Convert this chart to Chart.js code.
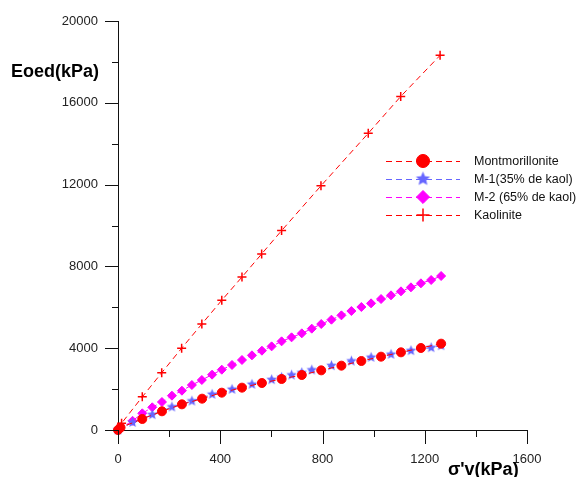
<!DOCTYPE html>
<html>
<head>
<meta charset="utf-8">
<script src="https://cdn.jsdelivr.net/npm/chart.js@4.4.1/dist/chart.umd.min.js"></script>
<style>
  html, body { margin: 0; padding: 0; background: #fff; }
  #wrap { width: 579px; height: 477px; position: relative; }
</style>
</head>
<body>
<div id="wrap"><canvas id="c" width="579" height="477"></canvas></div>
<script>
// values (sigma'v in kPa, Eoed in kPa)
const montX = [0, 10, 95, 172, 250, 329, 406, 485, 563, 640, 719, 795, 874, 952, 1029, 1107, 1185, 1264];
const montY = [0, 120, 538, 914, 1255, 1532, 1826, 2071, 2298, 2494, 2689, 2917, 3146, 3374, 3586, 3798, 4010, 4222];

const m1X = [0, 57, 134, 211, 289, 368, 446, 524, 601, 640, 679, 719, 758, 835, 913, 990, 1068, 1146, 1225, 1264];
const m1Y = [0, 370, 750, 1125, 1418, 1744, 1989, 2233, 2461, 2575, 2689, 2803, 2934, 3146, 3374, 3553, 3700, 3879, 4026, 4124];

const m2X = [0, 57, 95, 134, 172, 211, 250, 289, 328, 368, 406, 446, 485, 524, 563, 601, 640, 679, 719, 758, 795, 835, 874, 913, 952, 990, 1029, 1068, 1107, 1146, 1185, 1225, 1264];
const m2Y = [0, 450, 816, 1110, 1369, 1678, 1923, 2200, 2445, 2706, 2950, 3180, 3423, 3651, 3879, 4090, 4336, 4531, 4726, 4955, 5183, 5395, 5606, 5818, 6014, 6193, 6405, 6585, 6780, 6976, 7172, 7335, 7530];

const kaolX = [0, 14, 95, 171, 249, 328, 406, 485, 562, 640, 794, 979, 1106, 1260];
const kaolY = [0, 330, 1620, 2800, 4000, 5183, 6345, 7480, 8610, 9750, 11940, 14510, 16310, 18320];

const seriesNames = ['Montmorillonite', 'M-1(35% de kaol)', 'M-2 (65% de kaol)', 'Kaolinite'];
const xMajor = [0, 400, 800, 1200, 1600];
const xMinor = [200, 600, 1000, 1400];
const yMajor = [0, 4000, 8000, 12000, 16000, 20000];
const yMinor = [2000, 6000, 10000, 14000, 18000];

const FONT = '"Liberation Sans", Arial, sans-serif';

// filled five-point star as an image, Chart.js has only an asterisk 'star'
function starImage(r, color) {
  const size = Math.ceil(r * 2) + 2;
  const cv = document.createElement('canvas');
  cv.width = size; cv.height = size;
  const g = cv.getContext('2d');
  const c = size / 2, ri = r * 0.45;
  g.fillStyle = color;
  g.beginPath();
  for (let i = 0; i < 10; i++) {
    const rr = i % 2 ? ri : r;
    const a = -Math.PI / 2 + i * Math.PI / 5;
    const px = c + rr * Math.cos(a), py = c + rr * Math.sin(a);
    i ? g.lineTo(px, py) : g.moveTo(px, py);
  }
  g.closePath();
  g.fill();
  return cv;
}

const starSmall = starImage(5.5, '#6666ff');
const starBig = starImage(7.5, '#6666ff');

function pts(xs, ys) { return xs.map((x, i) => ({ x: x, y: ys[i] })); }

function series(label, xs, ys, color, style, radius) {
  return {
    label: label,
    data: pts(xs, ys),
    borderColor: color,
    backgroundColor: color,
    borderWidth: 1,
    borderDash: [6, 4],
    pointStyle: style,
    pointRadius: radius,
    pointBorderWidth: style === 'cross' ? 1.5 : 1,
    pointBorderColor: color,
    pointBackgroundColor: color,
    showLine: true,
    fill: false,
    tension: 0,
    clip: false
  };
}

// axis ticks (major long, minor short) + titles + legend
const decor = {
  id: 'decor',
  afterDraw(chart) {
    const ctx = chart.ctx;
    const xs = chart.scales.x, ys = chart.scales.y;
    const ca = chart.chartArea;
    ctx.save();
    ctx.strokeStyle = '#111';
    ctx.lineWidth = 1;
    ctx.beginPath();
    xMajor.forEach(v => { const p = Math.round(xs.getPixelForValue(v)) + 0.5; ctx.moveTo(p, ca.bottom); ctx.lineTo(p, ca.bottom + 14); });
    xMinor.forEach(v => { const p = Math.round(xs.getPixelForValue(v)) + 0.5; ctx.moveTo(p, ca.bottom); ctx.lineTo(p, ca.bottom + 7); });
    yMajor.forEach(v => { const p = Math.round(ys.getPixelForValue(v)) + 0.5; ctx.moveTo(ca.left, p); ctx.lineTo(ca.left - 13, p); });
    yMinor.forEach(v => { const p = Math.round(ys.getPixelForValue(v)) + 0.5; ctx.moveTo(ca.left, p); ctx.lineTo(ca.left - 6, p); });
    ctx.stroke();

    ctx.fillStyle = '#000';
    ctx.font = 'bold 18px ' + FONT;
    ctx.textBaseline = 'alphabetic';
    ctx.textAlign = 'left';
    ctx.fillText('Eoed(kPa)', 11, 77);
    ctx.fillText("\u03C3'v(kPa)", 448, 475);

    // legend
    const lx0 = 386, lx1 = 460, mx = 423, tx = 474;
    const rows = [161, 179, 197, 215];
    ctx.font = '12.5px ' + FONT;
    ctx.textBaseline = 'middle';
    chart.data.datasets.forEach((ds, i) => {
      const y = rows[i];
      ctx.save();
      ctx.strokeStyle = ds.borderColor;
      ctx.lineWidth = 1;
      ctx.setLineDash([6, 4]);
      ctx.beginPath();
      ctx.moveTo(lx0, y + 0.5); ctx.lineTo(lx1, y + 0.5);
      ctx.stroke();
      ctx.restore();
      ctx.save();
      ctx.fillStyle = ds.backgroundColor;
      ctx.strokeStyle = ds.borderColor;
      ctx.lineWidth = ds.pointStyle === 'cross' ? 1.5 : 1;
      const style = ds.pointStyle === starSmall ? starBig : ds.pointStyle;
      Chart.helpers.drawPoint(ctx, { pointStyle: style, radius: ds.pointRadius * 1.45, rotation: 0, borderWidth: ctx.lineWidth }, mx, y);
      ctx.restore();
      ctx.fillStyle = '#111';
      ctx.fillText(ds.label, tx, y + 1);
    });
    ctx.restore();
  }
};

const plain = v => String(v);

new Chart(document.getElementById('c'), {
  type: 'scatter',
  data: {
    datasets: [
      series(seriesNames[0], montX, montY, '#ff0000', 'circle', 4.5),
      series(seriesNames[1], m1X, m1Y, '#6666ff', starSmall, 5),
      series(seriesNames[2], m2X, m2Y, '#ff00ff', 'rectRot', 4.5),
      series(seriesNames[3], kaolX, kaolY, '#ff0000', 'cross', 4.5)
    ]
  },
  options: {
    responsive: false,
    animation: false,
    layout: { padding: { top: 21, right: 52, left: 0, bottom: 0 } },
    plugins: { legend: { display: false }, tooltip: { enabled: false } },
    scales: {
      x: {
        type: 'linear', min: 0, max: 1600,
        afterFit(s) { s.height = 47; },
        grid: { drawOnChartArea: false, color: 'transparent', tickLength: 14 },
        border: { display: true, color: '#111', width: 1 },
        ticks: { stepSize: 400, padding: 8, color: '#222', font: { family: FONT, size: 13 }, callback: plain }
      },
      y: {
        type: 'linear', min: 0, max: 20000,
        afterFit(s) { s.width = 118; },
        grid: { drawOnChartArea: false, color: 'transparent', tickLength: 13 },
        border: { display: true, color: '#111', width: 1 },
        ticks: { stepSize: 4000, padding: 7, color: '#222', font: { family: FONT, size: 13 }, callback: plain }
      }
    }
  },
  plugins: [decor]
});
</script>
</body>
</html>
